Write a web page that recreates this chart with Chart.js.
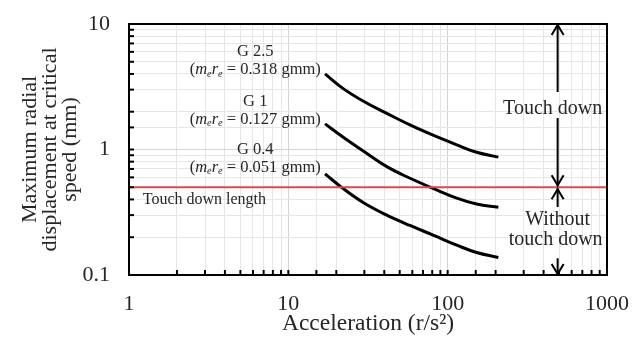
<!DOCTYPE html>
<html lang="en">
<head>
  <meta charset="UTF-8">
  <title>Maximum radial displacement</title>
  <style>
    body {
      margin: 0;
      padding: 0;
      background: #fff;
    }
    #wrap {
      width: 633px;
      height: 338px;
    }
  </style>
</head>
<body>
  <div id="wrap">
    <canvas id="grafico" width="633" height="338"></canvas>
  </div>

  <script src="https://cdn.jsdelivr.net/npm/chart.js"></script>
  <script>
    // data
    const accel = [17, 22, 30, 41.5, 58, 81, 114, 152, 208];
    const g25 = [4.0, 3.07, 2.40, 1.94, 1.57, 1.30, 1.09, 0.95, 0.87];
    const g1 = [1.60, 1.26, 0.96, 0.73, 0.59, 0.49, 0.41, 0.368, 0.346];
    const g04 = [0.64, 0.49, 0.373, 0.30, 0.248, 0.208, 0.173, 0.151, 0.138];
    const touchDown = 0.5;

    const xTicks = [1, 10, 100, 1000];
    const yTicks = [0.1, 1, 10];

    const serif = '"Liberation Serif", "DejaVu Serif", serif';
    const textColor = '#262626';

    function pts(ys) {
      return accel.map((x, i) => ({ x: x, y: ys[i] }));
    }

    function isLabel(list, v) {
      return list.some(t => Math.abs(t - v) < t * 1e-6);
    }

    // labels written on the plot
    const curveLabels = [
      { x: 6.2, y: 6.0, title: 'G 2.5', value: '0.318' },
      { x: 6.2, y: 2.42, title: 'G 1', value: '0.127' },
      { x: 6.2, y: 1.0, title: 'G 0.4', value: '0.051' }
    ];
    const arrowX = 490;

    function drawRich(ctx, segs, cx, cy, size) {
      let total = 0;
      segs.forEach(s => {
        const fs = s.sub ? size * 0.62 : size;
        ctx.font = (s.it ? 'italic ' : '') + fs + 'px ' + serif;
        s.w = ctx.measureText(s.t).width;
        total += s.w;
      });
      let x = cx - total / 2;
      ctx.textAlign = 'left';
      segs.forEach(s => {
        const fs = s.sub ? size * 0.62 : size;
        ctx.font = (s.it ? 'italic ' : '') + fs + 'px ' + serif;
        ctx.fillText(s.t, x, s.sub ? cy + size * 0.25 : cy);
        x += s.w;
      });
    }

    function arrowHead(ctx, x, y, dir) {
      // dir = -1 points up, 1 points down
      ctx.beginPath();
      ctx.moveTo(x - 6, y - dir * 10);
      ctx.lineTo(x, y);
      ctx.lineTo(x + 6, y - dir * 10);
      ctx.stroke();
    }

    const extras = {
      id: 'extras',
      afterDatasetsDraw(chart) {
        const ctx = chart.ctx;
        const xs = chart.scales.x;
        const ys = chart.scales.y;
        const a = chart.chartArea;

        ctx.save();
        // inward tick marks
        ctx.strokeStyle = '#000';
        ctx.lineWidth = 2;
        ys.ticks.forEach(t => {
          const py = ys.getPixelForValue(t.value);
          ctx.beginPath();
          ctx.moveTo(a.left, py);
          ctx.lineTo(a.left + 5, py);
          ctx.stroke();
        });
        xs.ticks.forEach(t => {
          const px = xs.getPixelForValue(t.value);
          ctx.beginPath();
          ctx.moveTo(px, a.bottom);
          ctx.lineTo(px, a.bottom - 5);
          ctx.stroke();
        });
        // frame
        ctx.strokeRect(a.left, a.top, a.right - a.left, a.bottom - a.top);

        // curve labels
        ctx.fillStyle = textColor;
        ctx.textBaseline = 'middle';
        curveLabels.forEach(l => {
          const cx = xs.getPixelForValue(l.x);
          const cy = ys.getPixelForValue(l.y);
          ctx.font = '16.5px ' + serif;
          ctx.textAlign = 'center';
          ctx.fillText(l.title, cx, cy);
          drawRich(ctx, [
            { t: '(' },
            { t: 'm', it: true },
            { t: 'e', it: true, sub: true },
            { t: 'r', it: true },
            { t: 'e', it: true, sub: true },
            { t: ' = ' + l.value + ' gmm)' }
          ], cx, cy + 18, 16.5);
        });

        // touch down length
        ctx.font = '16px ' + serif;
        ctx.textAlign = 'left';
        ctx.fillText('Touch down length', xs.getPixelForValue(1.22), ys.getPixelForValue(0.4));

        // arrows on the right
        const ax = xs.getPixelForValue(arrowX);
        const yTop = ys.getPixelForValue(10);
        const yLine = ys.getPixelForValue(touchDown);
        const yBot = ys.getPixelForValue(0.1);
        ctx.lineWidth = 2;
        ctx.beginPath();
        ctx.moveTo(ax, yTop);
        ctx.lineTo(ax, ys.getPixelForValue(2.87));
        ctx.moveTo(ax, ys.getPixelForValue(1.78));
        ctx.lineTo(ax, yLine - 1);
        ctx.moveTo(ax, yLine + 1);
        ctx.lineTo(ax, ys.getPixelForValue(0.348));
        ctx.moveTo(ax, ys.getPixelForValue(0.136));
        ctx.lineTo(ax, yBot);
        ctx.stroke();
        arrowHead(ctx, ax, yTop + 1, -1);
        arrowHead(ctx, ax, yLine - 2, 1);
        arrowHead(ctx, ax, yLine + 2, -1);
        arrowHead(ctx, ax, yBot - 1, 1);

        ctx.font = '20px ' + serif;
        ctx.textAlign = 'center';
        ctx.fillText('Touch down', ax - 5, ys.getPixelForValue(2.12));
        ctx.fillText('Without', ax, ys.getPixelForValue(0.274));
        ctx.fillText('touch down', ax - 2, ys.getPixelForValue(0.19));
        ctx.restore();
      }
    };

    const gridColor = c => (c.tick && c.tick.major) ? '#d4d4d4' : '#e6e6e6';

    function noOverhang(s) {
      s.paddingLeft = 0;
      s.paddingRight = 0;
      s.paddingTop = 0;
      s.paddingBottom = 0;
    }

    const ctx = document.getElementById('grafico').getContext('2d');
    const grafico = new Chart(ctx, {
      type: 'scatter',
      data: {
        datasets: [
          {
            label: 'Touch down length',
            data: [{ x: 1, y: touchDown }, { x: 1000, y: touchDown }],
            showLine: true,
            borderColor: '#e0474c',
            borderWidth: 2,
            pointRadius: 0
          },
          {
            label: 'G 2.5',
            data: pts(g25),
            showLine: true,
            borderColor: '#000',
            borderWidth: 3,
            pointRadius: 0,
            tension: 0.4
          },
          {
            label: 'G 1',
            data: pts(g1),
            showLine: true,
            borderColor: '#000',
            borderWidth: 3,
            pointRadius: 0,
            tension: 0.4
          },
          {
            label: 'G 0.4',
            data: pts(g04),
            showLine: true,
            borderColor: '#000',
            borderWidth: 3,
            pointRadius: 0,
            tension: 0.4
          }
        ]
      },
      options: {
        responsive: false,
        animation: false,
        devicePixelRatio: 1,
        layout: { padding: { top: 24, right: 26, left: 0, bottom: 0 } },
        plugins: {
          legend: { display: false },
          tooltip: { enabled: false }
        },
        scales: {
          x: {
            type: 'logarithmic',
            min: 1,
            max: 1000,
            afterFit: s => { s.height = 63; noOverhang(s); },
            grid: { color: gridColor, drawTicks: false },
            border: { color: '#000', width: 2 },
            ticks: {
              autoSkip: false,
              maxRotation: 0,
              padding: 16,
              color: textColor,
              font: { family: serif, size: 22 },
              callback: v => isLabel(xTicks, v) ? String(v) : ''
            },
            title: {
              display: true,
              text: 'Acceleration (r/s²)',
              color: textColor,
              font: { family: serif, size: 23.5 },
              padding: { top: 0, bottom: 0 }
            }
          },
          y: {
            type: 'logarithmic',
            min: 0.1,
            max: 10,
            afterFit: s => { s.width = 129; noOverhang(s); },
            grid: { color: gridColor, drawTicks: false },
            border: { color: '#000', width: 2 },
            ticks: {
              autoSkip: false,
              padding: 19,
              color: textColor,
              font: { family: serif, size: 22 },
              callback: v => isLabel(yTicks, v) ? String(v) : ''
            },
            title: {
              display: true,
              text: ['Maximum radial', 'displacement at critical', 'speed (mm)'],
              color: textColor,
              font: { family: serif, size: 22, lineHeight: 0.92 },
              padding: { top: 20, bottom: 0 }
            }
          }
        }
      },
      plugins: [extras]
    });
  </script>
</body>
</html>
